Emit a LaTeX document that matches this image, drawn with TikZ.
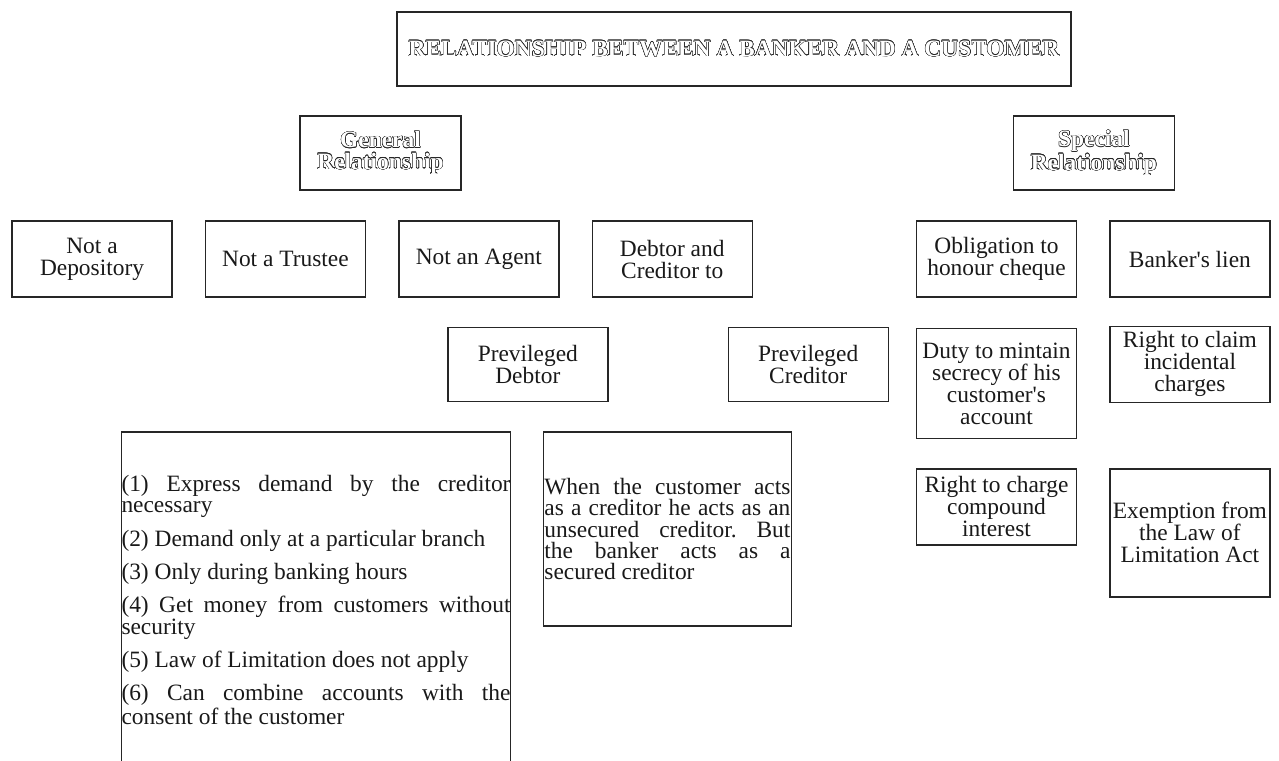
\documentclass[tikz,border=0pt]{standalone}
\usepackage{fontspec}
\setmainfont{Liberation Serif}
\usepackage[copies]{contour}
\contourlength{0.22pt}
\contournumber{16}
\usetikzlibrary{positioning}

\newcommand{\hollow}[1]{{\color{white}\contour{black!85}{#1}}}

\begin{document}
\begin{tikzpicture}[
  box/.style={draw=black!85, line width=0.7pt, rectangle, minimum width=80pt, minimum height=38pt,
    inner xsep=1pt, inner ysep=1pt, align=center, text=black!90, font=\fontsize{11.7}{11}\selectfont},
  headbox/.style={box, minimum height=37pt, font=\bfseries\fontsize{11.7}{10.8}\selectfont},
  parbox/.style={box, align=justify, inner ysep=0pt,
    font={\fontsize{11.7}{10.6}\selectfont\frenchspacing},
    execute at begin node={\setlength{\parindent}{0pt}\setlength{\parskip}{5pt}\hyphenpenalty=10000\exhyphenpenalty=10000}}
]
\clip (0,0) rectangle (639.5pt,-380pt);

\node (Title) [headbox, minimum width=337pt] at (367pt,-24.5pt) {\hollow{RELATIONSHIP BETWEEN A BANKER AND A CUSTOMER}};
\node (General) [headbox, minimum width=80.5pt] at (190.25pt,-76.5pt) {\hollow{General}\\\hollow{Relationship}};
\node (Special) [headbox, minimum width=80.5pt, right=275.5pt of General] {\hollow{Special}\\\hollow{Relationship}};

\node (Depository) [box] at (46pt,-129.5pt) {Not a\\Depository};
\node (Trustee) [box, right=16pt of Depository] {Not a Trustee};
\node (Agent) [box, right=16pt of Trustee] {Not an Agent};
\node (DebtorCreditor) [box, right=16pt of Agent] {Debtor and\\Creditor to};

\node (PrivDebtor) [box, minimum height=37pt, below=14.5pt of Agent, xshift=24.5pt] {Previleged\\Debtor};
\node (PrivCreditor) [box, minimum height=37pt, right=59.5pt of PrivDebtor] {Previleged\\Creditor};

\node (DebtorList) [parbox, text width=194.5pt, inner xsep=0pt, minimum height=168pt] at (158pt,-300pt) {(1) Express demand by the creditor\linebreak necessary\par
(2) Demand only at a particular branch\par
(3) Only during banking hours\par
(4) Get money from customers without\linebreak security\par
(5) Law of Limitation does not apply\par
(6) Can combine accounts with the\linebreak consent of the customer};
\node (CreditorNote) [parbox, text width=123pt, inner xsep=0.5pt, minimum height=97pt, right=15.75pt of DebtorList.north east, anchor=north west] {When the customer acts\linebreak as a creditor he acts as an\linebreak unsecured creditor. But\linebreak the banker acts as a\linebreak secured creditor};

\node (Cheque) [box] at (498.25pt,-129.5pt) {Obligation to\\honour cheque};
\node (Lien) [box, right=16pt of Cheque] {Banker\textquotesingle s lien};
\node (Secrecy) [box, minimum height=55pt, below=15pt of Cheque] {Duty to mintain\\secrecy of his\\customer\textquotesingle s\\account};
\node (Charges) [box, below=14pt of Lien] {Right to claim\\incidental\\charges};
\node (Interest) [box, below=14.5pt of Secrecy] {Right to charge\\compound\\interest};
\node (Exemption) [box, minimum height=64pt, below=32.5pt of Charges] {Exemption from\\the Law of\\Limitation Act};
\end{tikzpicture}
\end{document}
